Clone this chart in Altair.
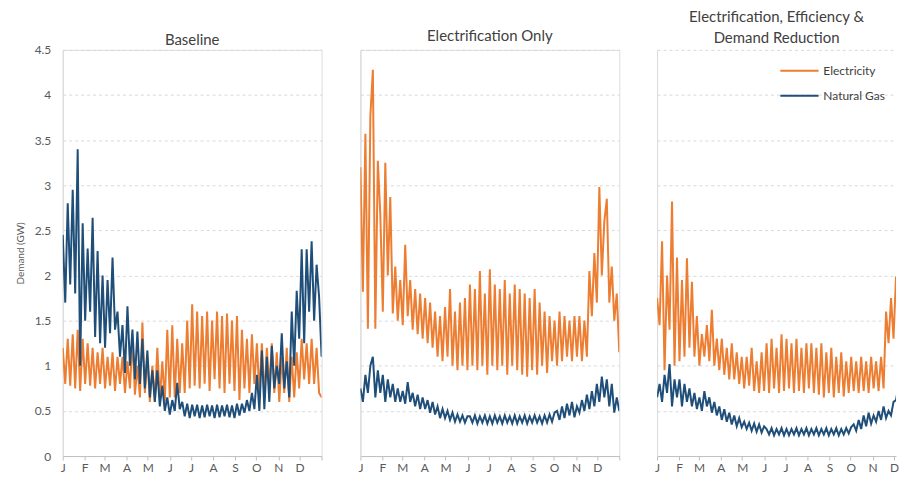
import altair as alt
import pandas as pd

# ---------------- data ----------------
months = ["J", "F", "M", "A", "M", "J", "J", "A", "S", "O", "N", "D"]
month_start_days = [0, 31, 59, 90, 120, 151, 181, 212, 243, 273, 304, 334, 365]
y_ticks = [0, 0.5, 1, 1.5, 2, 2.5, 3, 3.5, 4, 4.5]
series_names = ["Electricity", "Natural Gas"]
series_colors = ["#ED7D31", "#1F4E79"]
panel_titles = ["Baseline", "Electrification Only",
                ["Electrification, Efficiency &", "Demand Reduction"]]

# Baseline (about two readings per week, Jan -> Dec)
base_elec = [1.2, 0.8, 1.3, 0.78, 1.35, 0.75, 1.4, 0.72, 1.3,
             0.8, 1.25, 0.78, 1.2, 0.75, 1.15, 0.8, 1.2,
             0.75, 1.1, 0.78, 1.15, 0.72, 1.1, 0.8, 1.1, 0.7,
             1.05, 0.75, 1.3, 0.68, 1.0, 0.65, 1.48, 0.7, 1.1,
             0.6, 1.0, 0.6, 1.2, 0.62, 1.05, 0.6, 1.4, 0.65,
             1.45, 0.65, 1.3, 0.7, 1.25, 0.7, 1.5, 0.75, 1.68,
             0.78, 1.6, 0.75, 1.55, 0.8, 1.6, 0.72, 1.5, 0.85,
             1.6, 0.75, 1.55, 0.7, 1.58, 0.8, 1.5, 0.72, 1.55,
             0.62, 1.4, 0.75, 1.3, 0.7, 1.35, 0.8, 1.25,
             0.7, 1.25, 0.65, 1.2, 0.75, 1.25, 0.7, 1.15, 0.6,
             1.1, 0.7, 1.2, 0.6, 1.1, 0.65, 1.15, 0.75, 1.3,
             0.85, 1.25, 0.8, 1.3, 0.8, 1.2, 0.7, 0.65]
base_gas = [2.45, 1.7, 2.8, 1.9, 2.95, 1.8, 3.4, 1.0, 2.58,
            1.5, 2.3, 1.6, 2.64, 1.32, 2.27, 1.25, 2.0,
            1.2, 1.95, 1.36, 2.2, 1.4, 1.6, 1.1, 1.45, 0.92,
            1.66, 1.0, 1.4, 0.85, 1.38, 0.8, 1.3, 0.75, 1.17,
            0.65, 0.95, 0.6, 0.95, 0.55, 0.78, 0.5, 0.65, 0.46,
            0.62, 0.5, 0.81, 0.52, 0.6, 0.44, 0.58, 0.42, 0.57,
            0.44, 0.57, 0.42, 0.56, 0.43, 0.57, 0.44, 0.56, 0.42,
            0.57, 0.43, 0.56, 0.44, 0.57, 0.43, 0.56, 0.42, 0.58,
            0.45, 0.58, 0.48, 0.62, 0.5, 0.7, 0.52, 0.9,
            0.5, 1.17, 0.52, 1.1, 0.6, 1.22, 0.75, 1.0, 0.8,
            1.36, 0.75, 1.05, 0.65, 1.6, 1.0, 1.83, 1.3, 2.29,
            1.25, 2.29, 1.6, 2.38, 1.5, 2.12, 1.76, 1.1]

# Electrification Only
eo_elec = [3.2, 1.82, 3.57, 1.41, 3.77, 4.28, 1.41, 3.27, 2.67,
           1.6, 3.25, 2.0, 2.87, 1.58, 2.1, 1.5, 1.95,
           1.45, 2.34, 1.55, 1.95, 1.4, 1.85, 1.35, 1.8, 1.3,
           1.75, 1.25, 1.7, 1.2, 1.6, 1.1, 1.55, 1.05, 1.65,
           1.1, 1.85, 1.0, 1.6, 0.95, 1.7, 1.0, 1.75, 0.95,
           1.9, 1.0, 1.85, 0.95, 2.05, 1.0, 1.8, 0.9, 2.07,
           1.0, 1.9, 0.95, 1.85, 1.0, 1.95, 0.9, 1.8, 1.0,
           1.9, 0.95, 1.85, 0.9, 1.8, 0.88, 1.75, 0.95, 1.85,
           0.9, 1.7, 1.0, 1.6, 0.92, 1.55, 1.05, 1.5,
           1.0, 1.6, 1.05, 1.55, 1.1, 1.5, 1.05, 1.55, 1.1,
           1.55, 1.05, 1.5, 1.1, 2.05, 1.55, 2.25, 1.7, 2.98,
           2.0, 2.6, 2.85, 1.7, 2.1, 1.5, 1.8, 1.15]
eo_gas = [0.75, 0.6, 0.9, 0.7, 1.0, 1.1, 0.65, 0.95, 0.7,
          0.9, 0.6, 0.85, 0.65, 0.8, 0.6, 0.75, 0.6,
          0.72, 0.58, 0.82, 0.6, 0.7, 0.55, 0.68, 0.52, 0.65,
          0.52, 0.62, 0.48, 0.6, 0.46, 0.55, 0.42, 0.52, 0.42,
          0.5, 0.4, 0.48, 0.38, 0.46, 0.38, 0.45, 0.37, 0.44,
          0.44, 0.37, 0.45, 0.36, 0.44, 0.37, 0.45, 0.36, 0.44,
          0.36, 0.45, 0.37, 0.44, 0.36, 0.45, 0.37, 0.44, 0.36,
          0.45, 0.36, 0.44, 0.37, 0.45, 0.36, 0.44, 0.37, 0.45,
          0.37, 0.44, 0.36, 0.45, 0.37, 0.46, 0.38, 0.48,
          0.5, 0.4, 0.55, 0.42, 0.58, 0.45, 0.6, 0.43, 0.55,
          0.48, 0.62, 0.5, 0.68, 0.52, 0.72, 0.55, 0.8, 0.6,
          0.88, 0.65, 0.85, 0.55, 0.8, 0.48, 0.65, 0.5]

# Electrification, Efficiency & Demand Reduction
ee_elec = [1.75, 1.45, 2.38, 0.95, 2.0, 1.4, 2.82, 1.0, 2.2,
           1.05, 1.95, 1.1, 2.19, 1.2, 1.93, 1.1, 1.55,
           1.0, 1.35, 1.1, 1.45, 1.05, 1.62, 1.0, 1.3, 0.95,
           1.3, 0.9, 1.2, 0.85, 1.25, 0.85, 1.15, 0.8, 1.1,
           0.75, 1.1, 0.78, 1.2, 0.72, 1.05, 0.7, 1.15, 0.72,
           1.25, 0.7, 1.3, 0.75, 1.2, 0.7, 1.35, 0.72, 1.3,
           0.75, 1.25, 0.7, 1.3, 0.72, 1.2, 0.7, 1.25, 0.75,
           1.25, 0.7, 1.2, 0.68, 1.25, 0.65, 1.15, 0.7, 1.2,
           0.65, 1.1, 0.7, 1.15, 0.66, 1.05, 0.7, 1.1,
           0.72, 1.05, 0.7, 1.1, 0.72, 1.05, 0.7, 1.1, 0.75,
           1.05, 0.72, 1.1, 0.75, 1.6, 1.25, 1.75, 1.3, 1.99,
           1.4, 1.9, 1.5, 1.8, 1.4, 1.7, 1.3, 1.5]
ee_gas = [0.65, 0.8, 0.6, 0.9, 0.7, 1.02, 0.55, 0.85, 0.65,
          0.85, 0.55, 0.8, 0.6, 0.75, 0.55, 0.7, 0.52,
          0.65, 0.5, 0.72, 0.55, 0.65, 0.48, 0.6, 0.45, 0.55,
          0.4, 0.52, 0.38, 0.48, 0.35, 0.45, 0.33, 0.42, 0.32,
          0.38, 0.3, 0.37, 0.28, 0.36, 0.27, 0.35, 0.26, 0.33,
          0.3, 0.24, 0.31, 0.23, 0.3, 0.24, 0.31, 0.23, 0.3,
          0.23, 0.3, 0.24, 0.31, 0.23, 0.3, 0.24, 0.31, 0.23,
          0.3, 0.24, 0.31, 0.23, 0.3, 0.24, 0.31, 0.23, 0.3,
          0.24, 0.31, 0.23, 0.3, 0.24, 0.31, 0.25, 0.32,
          0.35, 0.28, 0.4, 0.3, 0.45, 0.33, 0.48, 0.36, 0.45,
          0.38, 0.5, 0.4, 0.55, 0.42, 0.5, 0.45, 0.6, 0.62,
          0.78, 0.6, 0.75, 0.62, 0.72, 0.55, 0.7, 0.6]

# ---------------- build ----------------
FONT = "Lato"
GRID = "#D9D9D9"
TEXT = "#595959"
PLOT_W = 260
PLOT_H = 408
LAST_W = 240  # the right-hand panel is cut off by the picture edge


def frame(elec, gas):
    rows = []
    for name, vals in zip(series_names, (elec, gas)):
        n = len(vals)
        for i, v in enumerate(vals):
            rows.append({"day": i * 365.0 / (n - 1), "demand": v, "fuel": name, "ord": i})
    return pd.DataFrame(rows)


labels_js = "[" + ",".join("'%s'" % m for m in months + [""]) + "]"
days_js = "[" + ",".join(str(d) for d in month_start_days) + "]"
label_expr = "%s[indexof(%s, datum.value)]" % (labels_js, days_js)

legend = alt.Legend(orient="none", legendX=727, legendY=8, title=None,
                    symbolType="M-1.6,0H1.6", symbolSize=576, symbolStrokeWidth=2,
                    labelFontSize=12, labelColor="#404040", labelFont=FONT,
                    rowPadding=6, labelOffset=11, padding=0)


def panel(df, title, width, xmax, first, title_offset):
    xvals = [d for d in month_start_days if d <= xmax]
    x = alt.X("day:Q",
              scale=alt.Scale(domain=[0, xmax], nice=False, zero=False),
              axis=alt.Axis(values=xvals, labelExpr=label_expr, title=None, grid=False,
                            labelFlush=False, labelOverlap=False, domainColor="#BFBFBF",
                            tickColor="#BFBFBF", tickSize=4, labelPadding=3,
                            labelFontSize=12, labelColor=TEXT, labelFont=FONT))
    if first:
        yaxis = alt.Axis(values=y_ticks, format="~g", title="Demand (GW)",
                         titleFontSize=10, titleColor=TEXT, titleFontWeight="normal",
                         titleFont=FONT, titlePadding=9, labelPadding=12, ticks=False,
                         labelFontSize=12, labelColor=TEXT, labelFont=FONT,
                         domainColor=GRID, grid=True, gridColor=GRID, gridDash=[3, 3])
    else:
        yaxis = alt.Axis(values=y_ticks, title=None, labels=False, ticks=False,
                         domainColor=GRID, grid=True, gridColor=GRID, gridDash=[3, 3])
    y = alt.Y("demand:Q", scale=alt.Scale(domain=[0, 4.5], nice=False), axis=yaxis)
    ch = alt.Chart(df).mark_line(strokeWidth=2, clip=True).encode(
        x=x, y=y,
        color=alt.Color("fuel:N", scale=alt.Scale(domain=series_names, range=series_colors),
                        legend=legend),
        order="ord:Q",
    ).properties(
        width=width, height=PLOT_H,
        title=alt.TitleParams(title, fontSize=15, font=FONT, color="#404040",
                              fontWeight="normal", anchor="middle", offset=title_offset,
                              lineHeight=21),
    )
    return ch


p1 = panel(frame(base_elec, base_gas), panel_titles[0], PLOT_W, 365, True, -4)
p2 = panel(frame(eo_elec, eo_gas), panel_titles[1], PLOT_W, 365, False, 6)
p3 = panel(frame(ee_elec, ee_gas), panel_titles[2], LAST_W,
           365.0 * LAST_W / PLOT_W, False, 4).properties(view=alt.ViewBackground(stroke=None))

chart = alt.hconcat(p1, p2, p3, spacing=34).properties(
    padding={"left": 6, "top": 1, "right": 0, "bottom": 0}
).configure_view(stroke=GRID).configure(font=FONT)

chart.save("out.html", embed_options={"renderer": "svg", "actions": False})
